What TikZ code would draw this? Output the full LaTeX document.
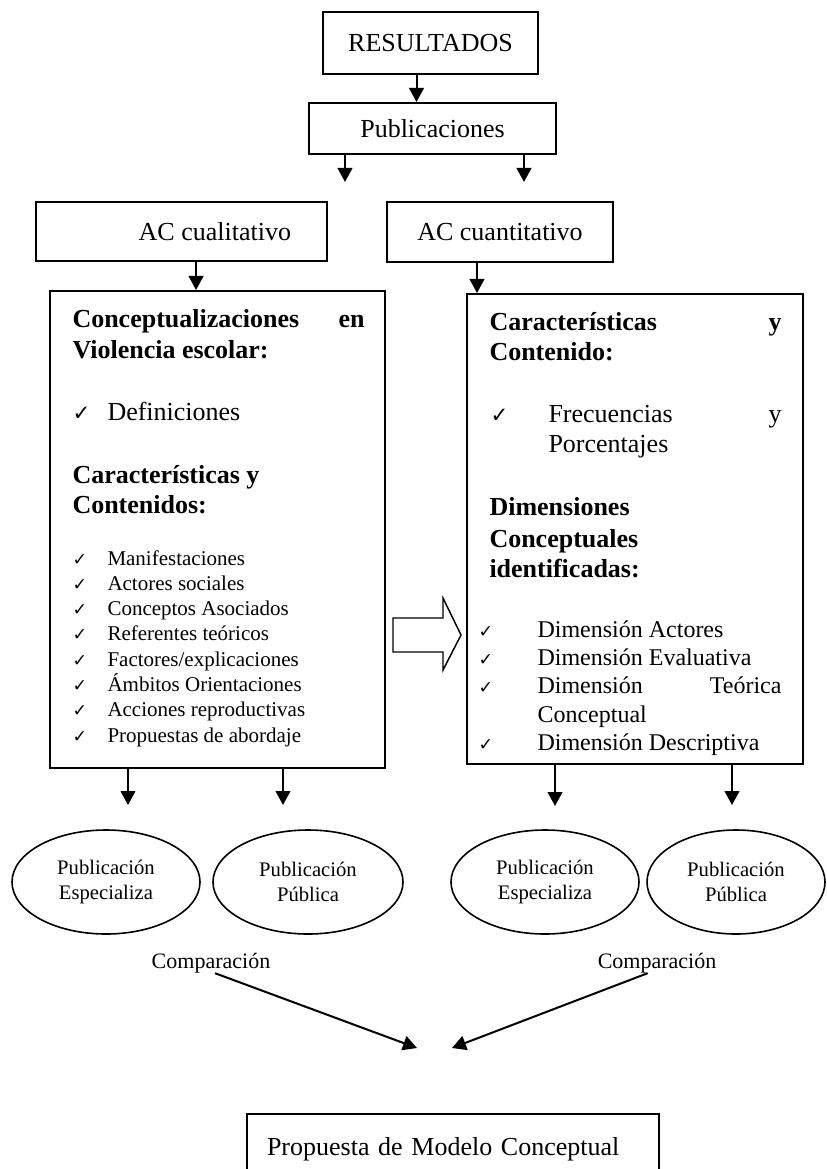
\documentclass[tikz,border=0pt]{standalone}
\usepackage{fontspec}
\setmainfont{Liberation Serif}
\newfontfamily\chkfont{DejaVu Sans}
\usepackage{tikz}
\usetikzlibrary{arrows.meta,shapes.geometric}
\tikzset{every picture/.style={line width=0.75pt}}
\tikzset{
  boxnode/.style={draw,rectangle,line width=1.5,inner sep=0pt,font=\fontsize{19.5}{23}\selectfont},
  pubell/.style={draw,ellipse,line width=1.2,inner sep=0pt,align=center,font=\fontsize{15.5}{18.75}\selectfont},
  arr/.style={line width=1.5,-{Triangle[length=10.5pt,width=11pt]}},
  bigtxt/.style={anchor=base west,inner sep=0pt,font=\fontsize{19.5}{23}\selectfont},
  hdtxt/.style={anchor=base west,inner sep=0pt,font=\fontsize{19.5}{23}\selectfont\bfseries},
  lsttxt/.style={anchor=base west,inner sep=0pt,font=\fontsize{15.75}{19}\selectfont},
  rlsttxt/.style={anchor=base west,inner sep=0pt,font=\fontsize{18}{21}\selectfont},
  chkbig/.style={anchor=base west,inner sep=0pt,font=\fontsize{16}{18}\selectfont\chkfont},
  chksmall/.style={anchor=base west,inner sep=0pt,font=\fontsize{13}{15}\selectfont\chkfont},
  cmptxt/.style={anchor=base,inner sep=0pt,font=\fontsize{16.5}{19}\selectfont}
}

\begin{document}
\begin{tikzpicture}[x=0.75pt,y=0.75pt,yscale=-1,xscale=1]
%page of 826 x 1169, the last box runs off the bottom
\useasboundingbox (0,0) rectangle (826,1169);
\clip (0,0) rectangle (826,1169);

%Shape: Rectangle [id:res]
\node[boxnode,minimum width=161.25pt,minimum height=46.5pt] (res) at (430.5,43) {RESULTADOS};
%Shape: Rectangle [id:pub]
\node[boxnode,minimum width=185.25pt,minimum height=38.25pt] (pub) at (432.5,128.5) {Publicaciones};
%Shape: Rectangle [id:acl]
\node[boxnode,minimum width=218.25pt,minimum height=44.25pt] (acl) at (181.5,231.5) {\hspace*{50pt}AC cualitativo};
%Shape: Rectangle [id:acn]
\node[boxnode,minimum width=169.5pt,minimum height=45pt] (acn) at (500,232) {AC cuantitativo};
%Shape: Rectangle [id:lbox]
\node[boxnode,minimum width=251.25pt,minimum height=357.75pt] (lbox) at (217.5,529.5) {};
%Shape: Rectangle [id:rbox]
\node[boxnode,minimum width=252pt,minimum height=352.5pt] (rbox) at (635,529) {};
%Shape: Rectangle [id:prop]
\node[boxnode,text width=279pt,inner xsep=15pt,minimum height=52.5pt,align=left] (prop) at (453,1149) {Propuesta de Modelo Conceptual};

%Shape: Ellipse [id:e1]
\node[pubell,minimum width=141pt,minimum height=78pt] (e1) at (106,882) {Publicación\\Especializa};
%Shape: Ellipse [id:e2]
\node[pubell,minimum width=142.5pt,minimum height=78pt] (e2) at (308,882) {Publicación\\Pública};
%Shape: Ellipse [id:e3]
\node[pubell,minimum width=141pt,minimum height=78pt] (e3) at (545,882) {Publicación\\Especializa};
%Shape: Ellipse [id:e4]
\node[pubell,minimum width=133.5pt,minimum height=78pt] (e4) at (736,882) {Publicación\\Pública};

%free ends of the arrows
\coordinate (p1) at (345,182);
\coordinate (p2) at (524,182);
\coordinate (l1) at (128,805);
\coordinate (l2) at (283,805);
\coordinate (r1) at (555,806);
\coordinate (r2) at (732,805);
\coordinate (m1) at (417,1048);
\coordinate (m2) at (452,1048);

%Straight Lines
\draw[arr] ([xshift=-10.5pt]res.south) -- ([xshift=-10.5pt]res.south |- pub.north);
\draw[arr] (pub.south -| p1) -- (p1);
\draw[arr] (pub.south -| p2) -- (p2);
\draw[arr] ([xshift=10.9pt]acl.south) -- ([xshift=10.9pt]acl.south |- lbox.north);
\draw[arr] ([xshift=-17.25pt]acn.south) -- ([xshift=-17.25pt]acn.south |- rbox.north);
\draw[arr] (lbox.south -| l1) -- (l1);
\draw[arr] (lbox.south -| l2) -- (l2);
\draw[arr] (rbox.south -| r1) -- (r1);
\draw[arr] (rbox.south -| r2) -- (r2);

%Right Arrow (hollow)
\draw[line width=1.1] (393,618) -- (443,618) -- (443,598) -- (461,635) -- (443,670) -- (443,652) -- (393,652) -- cycle;

% Text Node
\node[cmptxt] (cmp1) at (211,968) {Comparación};
% Text Node
\node[cmptxt] (cmp2) at (657,968) {Comparación};
\draw[arr] ([xshift=3pt]cmp1.south) -- (m1);
\draw[arr] ([xshift=-7pt]cmp2.south) -- (m2);

% Text Node
\node[hdtxt] (h1) at (72,327) {Conceptualizaciones};
\node[hdtxt,anchor=base east] (h1b) at (365,327) {en};
\node[hdtxt] (h2) at (72,358) {Violencia escolar:};
% Text Node
\node[chkbig] (k1) at (72,420) {✓};
\node[bigtxt] (d1) at (107,420) {Definiciones};
% Text Node
\node[hdtxt] (h3) at (72,483) {Características y};
\node[hdtxt] (h4) at (72,513) {Contenidos:};
% Text Node
\node[chksmall] (c1) at (72,565) {✓};
\node[lsttxt] (s1) at (107,565) {Manifestaciones};
\node[chksmall] (c2) at (72,590.3) {✓};
\node[lsttxt] (s2) at (107,590.3) {Actores sociales};
\node[chksmall] (c3) at (72,615.6) {✓};
\node[lsttxt] (s3) at (107,615.6) {Conceptos Asociados};
\node[chksmall] (c4) at (72,640.9) {✓};
\node[lsttxt] (s4) at (107,640.9) {Referentes teóricos};
\node[chksmall] (c5) at (72,666.2) {✓};
\node[lsttxt] (s5) at (107,666.2) {Factores/explicaciones};
\node[chksmall] (c6) at (72,691.5) {✓};
\node[lsttxt] (s6) at (107,691.5) {Ámbitos Orientaciones};
\node[chksmall] (c7) at (72,716.8) {✓};
\node[lsttxt] (s7) at (107,716.8) {Acciones reproductivas};
\node[chksmall] (c8) at (72,742.1) {✓};
\node[lsttxt] (s8) at (107,742.1) {Propuestas de abordaje};

% Text Node
\node[hdtxt] (h5) at (489,330) {Características};
\node[hdtxt,anchor=base east] (h5b) at (782,330) {y};
\node[hdtxt] (h6) at (489,360) {Contenido:};
% Text Node
\node[chkbig] (k2) at (490,422) {✓};
\node[bigtxt] (f1) at (548,422) {Frecuencias};
\node[bigtxt,anchor=base east] (f1b) at (782,422) {y};
\node[bigtxt] (f2) at (548,452) {Porcentajes};
% Text Node
\node[hdtxt] (h7) at (489,515) {Dimensiones};
\node[hdtxt] (h8) at (489,547) {Conceptuales};
\node[hdtxt] (h9) at (489,577) {identificadas:};
% Text Node
\node[chksmall] (q1) at (478,637) {✓};
\node[rlsttxt] (u1) at (537,637) {Dimensión Actores};
\node[chksmall] (q2) at (478,665) {✓};
\node[rlsttxt] (u2) at (537,665) {Dimensión Evaluativa};
\node[chksmall] (q3) at (478,693) {✓};
\node[rlsttxt] (u3) at (537,693) {Dimensión};
\node[rlsttxt,anchor=base east] (u3b) at (782,693) {Teórica};
\node[rlsttxt] (u4) at (537,722) {Conceptual};
\node[chksmall] (q5) at (478,750) {✓};
\node[rlsttxt] (u5) at (537,750) {Dimensión Descriptiva};
\end{tikzpicture}
\end{document}
